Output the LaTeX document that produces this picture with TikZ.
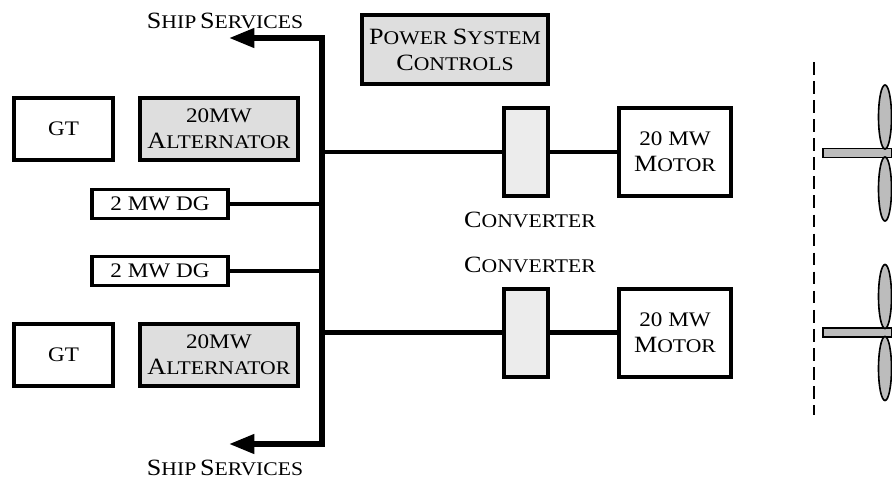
\documentclass[tikz,border=0pt]{standalone}
\usepackage{fontspec}
\setmainfont[FakeStretch=1.12]{Liberation Serif}
\usepackage{tikz}
\usetikzlibrary{arrows.meta, positioning}
\definecolor{altgray}{RGB}{222,222,222}
\definecolor{convgray}{RGB}{236,236,236}
\definecolor{bladegray}{RGB}{188,188,188}
\spaceskip=3pt
\newcommand{\capw}[2]{{\fontsize{17.5}{19.5}\selectfont #1}{\fontsize{14.5}{19.5}\selectfont #2}}
\newcommand{\plainw}[1]{{\fontsize{15.5}{19.5}\selectfont #1}}

\begin{document}
\begin{tikzpicture}[
  x=0.75pt, y=-0.75pt,
  box/.style={draw=black, line width=3pt, align=center, inner sep=0pt,
              font=\fontsize{14.5}{19.5}\selectfont},
  gtbox/.style={box, minimum width=74pt, minimum height=46.5pt},
  altbox/.style={box, fill=altgray, minimum width=119pt, minimum height=46.5pt},
  dgbox/.style={box, line width=2.4pt, minimum width=102pt, minimum height=22pt},
  convbox/.style={box, fill=convgray, minimum width=33pt, minimum height=66pt},
  motorbox/.style={box, minimum width=84pt, minimum height=66pt},
  lbl/.style={inner sep=0pt},
  busline/.style={line width=4pt, {Stealth[length=19pt, width=14pt, inset=0pt]}-{Stealth[length=19pt, width=14pt, inset=0pt]}},
  feed/.style={line width=3.6pt},
  blade/.style={draw=black, fill=bladegray, line width=1.2pt},
  shaft/.style={draw=black, fill=bladegray, line width=1.2pt},
]
  \useasboundingbox (0,0) rectangle (892,479);

  % Generators
  \node[gtbox] (gt1) at (63.5,129) {\plainw{GT}};
  \node[altbox, right=17pt of gt1] (alt1) {\plainw{20MW}\\\capw{A}{LTERNATOR}};
  \node[gtbox] (gt2) at (63.5,355) {\plainw{GT}};
  \node[altbox, right=17pt of gt2] (alt2) {\plainw{20MW}\\\capw{A}{LTERNATOR}};
  \node[dgbox] (dg1) at (160,204) {\plainw{2 MW DG}};
  \node[dgbox] (dg2) at (160,271) {\plainw{2 MW DG}};

  % Controls
  \node[box, fill=altgray, minimum width=139.5pt, minimum height=52pt] (ctrl) at (455,49.5)
    {\capw{P}{OWER} \capw{S}{YSTEM}\\\capw{C}{ONTROLS}};

  % Converters and motors
  \node[convbox] (conv1) at (526,152) {};
  \node[convbox] (conv2) at (526,332.5) {};
  \node[motorbox] (mot1) at (675,152) {\plainw{20 MW}\\\capw{M}{OTOR}};
  \node[motorbox] (mot2) at (675,332.5) {\plainw{20 MW}\\\capw{M}{OTOR}};
  \node[lbl] (clab1) at (530,220) {\capw{C}{ONVERTER}};
  \node[lbl] (clab2) at (530,265) {\capw{C}{ONVERTER}};

  % Bus
  \coordinate (stop) at (229,38);
  \coordinate (sbot) at (229,444);
  \coordinate (btop) at (322,38);
  \coordinate (bbot) at (322,444);
  \node[lbl] (slab1) at (225,21) {\capw{S}{HIP} \capw{S}{ERVICES}};
  \node[lbl] (slab2) at (225,468) {\capw{S}{HIP} \capw{S}{ERVICES}};
  \draw[busline] (stop) -- (btop) -- (bbot) -- (sbot);

  \foreach \a in {dg1, dg2} {
    \draw[feed] (\a.east) -- (\a.east -| btop);
  }
  \foreach \a/\b in {conv1/mot1, conv2/mot2} {
    \draw[feed] (\a.west -| btop) -- (\a.west);
    \draw[feed] (\a.east) -- (\b.west);
  }

  % Hull centre line
  \coordinate (cl1) at (814,62);
  \coordinate (cl2) at (814,415);
  \draw[line width=1.6pt, dash pattern=on 9.5pt off 4.8pt] (cl1) -- (cl2);

  % Propellers
  \foreach \y in {153,332.5} {
    \draw[shaft] (823,\y-4.5) rectangle (892,\y+4.5);
    \draw[blade] (885,\y-36) ellipse (6.5 and 32);
    \draw[blade] (885,\y+36) ellipse (6.5 and 32);
  }
\end{tikzpicture}
\end{document}
